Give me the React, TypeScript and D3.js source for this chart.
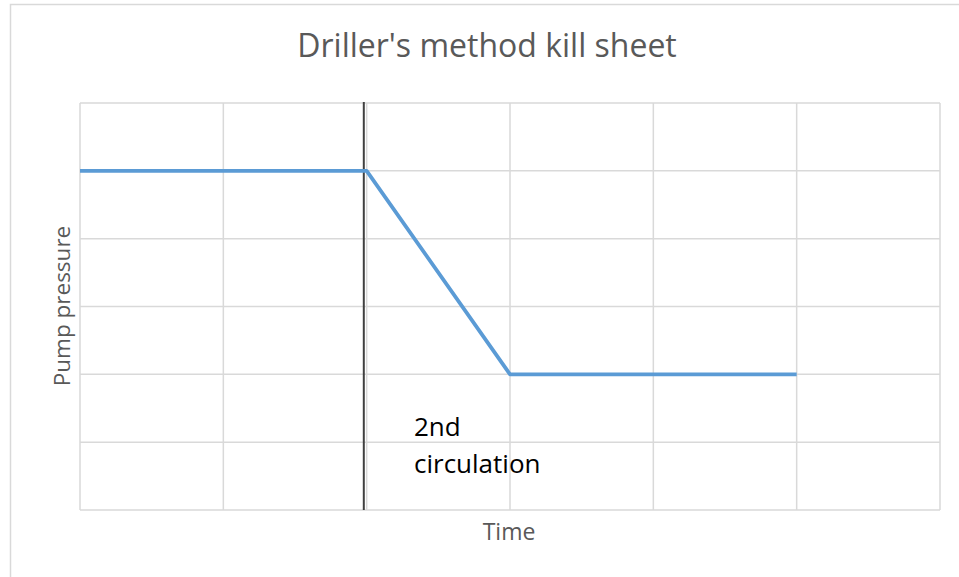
import React from "react";
import * as d3 from "d3";

const xValues = [0, 2, 3, 5];
const pressureValues = [5, 5, 2, 2];
const xTicks = [0, 1, 2, 3, 4, 5, 6];
const yTicks = [0, 1, 2, 3, 4, 5, 6];
const markerX = 1.98;
const title = "Driller's method kill sheet";
const xTitle = "Time";
const yTitle = "Pump pressure";
const annotation = ["2nd", "circulation"];

const W = 959;
const H = 577;
const plot = { left: 80, right: 940, top: 103, bottom: 510 };
const font = "'Open Sans', sans-serif";

export default function App() {
  const x = d3.scaleLinear().domain([0, 6]).range([plot.left, plot.right]);
  const y = d3.scaleLinear().domain([0, 6]).range([plot.bottom, plot.top]);
  const pts = xValues.map((v, i) => [v, pressureValues[i]] as [number, number]);
  const line = d3
    .line<[number, number]>()
    .x((d) => x(d[0]))
    .y((d) => y(d[1]));

  return (
    <svg
      width={W}
      height={H}
      style={{ position: "absolute", left: 0, top: 0, background: "#fff" }}
    >
      <rect x={10.5} y={4.5} width={960} height={590} fill="#fff" stroke="#d9d9d9" strokeWidth={1.5} />
      <text x={487} y={57} textAnchor="middle" fontFamily={font} fontSize={32} fill="#595959">
        {title}
      </text>
      {yTicks.map((t) => (
        <line key={"h" + t} x1={plot.left} x2={plot.right} y1={y(t)} y2={y(t)} stroke="#d9d9d9" strokeWidth={1.5} />
      ))}
      {xTicks.map((t) => (
        <line key={"v" + t} x1={x(t)} x2={x(t)} y1={plot.top} y2={plot.bottom} stroke="#d9d9d9" strokeWidth={1.5} />
      ))}
      <line x1={x(markerX)} x2={x(markerX)} y1={plot.top - 1} y2={plot.bottom} stroke="#404040" strokeWidth={2} />
      <path d={line(pts) || ""} fill="none" stroke="#5b9bd5" strokeWidth={3.75} strokeLinejoin="round" />
      <text fontFamily={font} fontSize={26} fill="#000">
        <tspan x={414} y={436}>{annotation[0]}</tspan>
        <tspan x={414} y={473}>{annotation[1]}</tspan>
      </text>
      <text x={509} y={540} textAnchor="middle" fontFamily={font} fontSize={23} fill="#595959">
        {xTitle}
      </text>
      <text
        transform={`translate(70,306) rotate(-90)`}
        textAnchor="middle"
        fontFamily={font}
        fontSize={22.5}
        fill="#595959"
      >
        {yTitle}
      </text>
    </svg>
  );
}
